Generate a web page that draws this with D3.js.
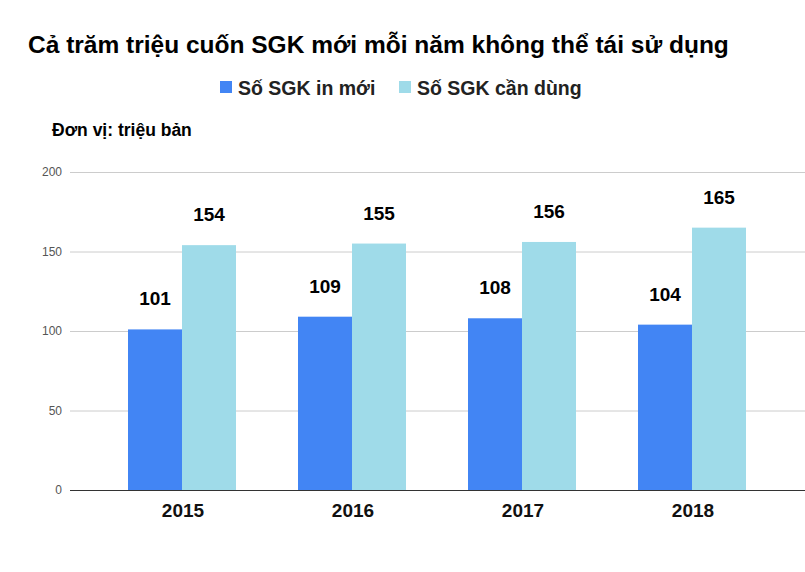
<!DOCTYPE html>
<html><head><meta charset="utf-8">
<script src="https://cdn.jsdelivr.net/npm/d3@7"></script>
<style>body{margin:0;background:#fff}text{font-family:Arial,"Liberation Sans",sans-serif}</style>
</head><body><svg id="c" width="805" height="572"></svg>
<script>
const years = ["2015","2016","2017","2018"];
const seriesNames = ["Số SGK in mới","Số SGK cần dùng"];
const printed = [101,109,108,104];
const needed = [154,155,156,165];
const yTicks = [0,50,100,150,200];
const colors = ["#4285f4","#9fdbe9"];

const svg = d3.select("#c");
const x = d3.scaleBand().domain(years).range([98,778]);
const inner = d3.scaleBand().domain([0,1]).range([30,138]);
const y = d3.scaleLinear().domain([0,200]).range([490,172]);

svg.append("text").attr("x",28).attr("y",53).attr("font-size",24.5).attr("font-weight","bold").text("Cả trăm triệu cuốn SGK mới mỗi năm không thể tái sử dụng");
const lg = [[220,seriesNames[0]],[399,seriesNames[1]]];
lg.forEach((d,i)=>{
  svg.append("rect").attr("x",d[0]).attr("y",81).attr("width",12).attr("height",12).attr("fill",colors[i]);
  svg.append("text").attr("x",d[0]+18).attr("y",95).attr("font-size",19.5).attr("font-weight","bold").attr("fill","#222").text(d[1]);
});
svg.append("text").attr("x",52).attr("y",136).attr("font-size",17.5).attr("font-weight","bold").text("Đơn vị: triệu bản");

const yAxis = svg.append("g").attr("transform","translate(70,0)")
  .call(d3.axisLeft(y).tickValues(yTicks).tickSize(-735).tickPadding(8));
yAxis.select(".domain").remove();
yAxis.selectAll("line").attr("stroke","#ccc");
yAxis.selectAll("text").attr("fill","#555").attr("font-size",12);
yAxis.selectAll(".tick").filter(d=>d===0).select("line").attr("stroke","#333");

[printed,needed].forEach((vals,s)=>{
  const g = svg.append("g");
  g.selectAll("rect").data(vals).join("rect")
    .attr("x",(d,i)=>x(years[i])+inner(s)).attr("width",inner.bandwidth())
    .attr("y",d=>y(d)).attr("height",d=>y(0)-y(d)).attr("fill",colors[s]);
  g.selectAll("text").data(vals).join("text")
    .attr("x",(d,i)=>x(years[i])+inner(s)+inner.bandwidth()/2).attr("y",d=>y(d)-24)
    .attr("text-anchor","middle").attr("font-size",19).attr("font-weight","bold").text(d=>d);
});

const xAxis = svg.append("g").attr("transform","translate(0,490)")
  .call(d3.axisBottom(x).tickSize(0).tickPadding(14));
xAxis.select(".domain").remove();
xAxis.selectAll("text").attr("font-size",19).attr("font-weight","bold").attr("fill","#111");
</script></body></html>
